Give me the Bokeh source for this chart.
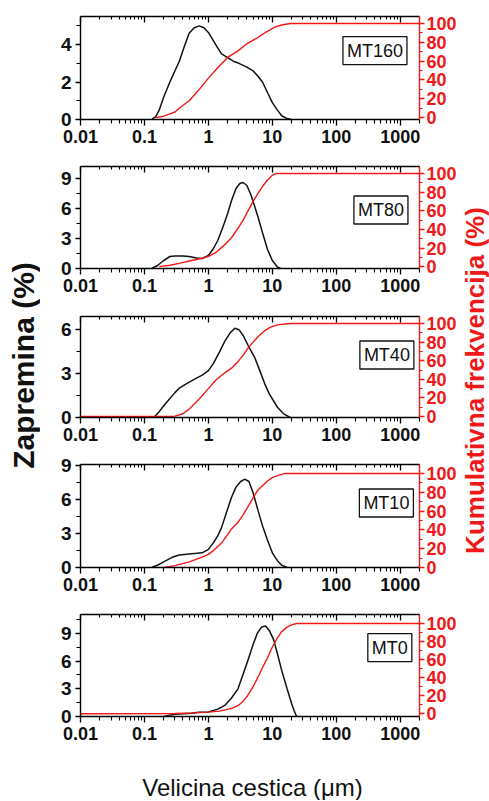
import math
from bokeh.plotting import figure
from bokeh.models import Range1d, LinearAxis, LogAxis, FixedTicker, CustomJSTickFormatter, Label
from bokeh.layouts import column, row
from bokeh.embed import file_html
from bokeh.resources import INLINE

# ---------------- data ----------------
sample_names = ["MT160", "MT80", "MT40", "MT10", "MT0"]

mt160_x = [0.13, 0.15, 0.17, 0.2, 0.25, 0.3, 0.35, 0.42, 0.5, 0.6, 0.72, 0.85, 1.0, 1.3, 1.6, 2.0, 2.5, 3.0, 4.0, 5.0, 6.0, 7.0, 8.5, 10, 12, 14, 17, 20]
mt160_v = [0, 0.15, 0.5, 1.2, 2.0, 2.6, 3.1, 3.9, 4.6, 4.9, 5.0, 4.9, 4.65, 4.0, 3.5, 3.3, 3.1, 3.0, 2.8, 2.6, 2.3, 2.0, 1.4, 0.9, 0.5, 0.2, 0.05, 0]
mt160_cx = [0.15, 0.2, 0.25, 0.3, 0.35, 0.5, 0.7, 1.0, 1.4, 2.0, 2.9, 4.1, 5.9, 8, 10.7, 14, 19, 2000]
mt160_c = [0, 1.5, 4, 6, 10, 18, 29, 42, 53, 64, 71, 79, 85, 91, 96, 98.5, 100, 100]

mt80_x = [0.13, 0.16, 0.2, 0.25, 0.3, 0.4, 0.5, 0.65, 0.8, 1.0, 1.2, 1.4, 1.7, 2.0, 2.3, 2.7, 3.1, 3.5, 4.0, 4.6, 5.3, 6.0, 7.0, 8.4, 10, 12, 13.5]
mt80_v = [0, 0.3, 0.8, 1.2, 1.25, 1.25, 1.2, 1.05, 1.0, 1.3, 2.0, 2.8, 4.2, 5.5, 6.8, 8.0, 8.5, 8.6, 8.3, 7.4, 6.2, 5.1, 3.6, 1.9, 0.8, 0.15, 0]
mt80_cx = [0.17, 0.25, 0.35, 0.5, 0.8, 1.0, 1.3, 1.7, 2.3, 2.9, 3.5, 4.1, 5.0, 6.0, 7.0, 8.4, 10, 11.5, 2000]
mt80_c = [0, 1.5, 3.5, 6, 9, 11, 15, 22, 31, 41, 50, 59, 70, 79, 86, 93, 98, 100, 100]

mt40_x = [0.14, 0.17, 0.2, 0.25, 0.3, 0.35, 0.45, 0.6, 0.8, 1.0, 1.2, 1.5, 1.8, 2.2, 2.6, 3.0, 3.5, 4.2, 5.3, 6.5, 7.6, 9, 12, 15, 19]
mt40_v = [0, 0.4, 0.8, 1.3, 1.7, 2.0, 2.3, 2.6, 2.9, 3.2, 3.7, 4.5, 5.2, 5.8, 6.1, 6.0, 5.6, 4.9, 4.1, 3.1, 2.3, 1.6, 0.7, 0.25, 0]
mt40_cx = [0.01, 0.25, 0.3, 0.4, 0.5, 0.7, 1.0, 1.3, 1.8, 2.3, 2.9, 3.5, 4.1, 5.0, 6.0, 7.5, 9.4, 12, 17, 20, 2000]
mt40_c = [0, 0, 0.5, 3, 8, 18, 30, 39, 47, 52, 59, 66, 73, 80, 86, 92, 96, 98.5, 99.7, 100, 100]

mt10_x = [0.13, 0.16, 0.2, 0.27, 0.35, 0.5, 0.65, 0.8, 1.0, 1.2, 1.4, 1.6, 1.9, 2.3, 2.7, 3.2, 3.7, 4.3, 5.0, 6.0, 7.0, 8.4, 10, 12, 14, 17]
mt10_v = [0, 0.2, 0.5, 0.9, 1.1, 1.2, 1.25, 1.3, 1.6, 2.2, 2.8, 3.5, 4.8, 6.2, 7.1, 7.6, 7.8, 7.6, 6.6, 5.0, 3.7, 2.4, 1.3, 0.6, 0.2, 0]
mt10_cx = [0.2, 0.3, 0.5, 0.8, 1.0, 1.2, 1.6, 2.0, 2.3, 2.9, 3.5, 4.1, 5.0, 5.9, 7.0, 8.4, 10, 13, 16, 2000]
mt10_c = [0, 2, 6, 11, 14, 18, 26, 35, 41, 48, 56, 64, 74, 82, 87, 92, 95.5, 98.5, 100, 100]

mt0_x = [0.2, 0.25, 0.3, 0.4, 0.55, 0.7, 1.0, 1.4, 1.8, 2.3, 2.9, 3.5, 4.2, 5.0, 5.8, 6.8, 7.8, 9.0, 10.5, 12, 14, 17, 20, 22, 24]
mt0_v = [0, 0.15, 0.25, 0.3, 0.35, 0.45, 0.5, 0.8, 1.2, 2.0, 3.0, 4.6, 6.2, 7.8, 9.0, 9.7, 9.8, 9.3, 8.3, 6.8, 5.0, 3.0, 1.4, 0.6, 0]
mt0_cx = [0.01, 0.3, 0.6, 1.0, 1.5, 2.3, 2.9, 3.5, 4.1, 5.0, 5.9, 7.0, 8.4, 10, 12, 14, 17, 20, 24, 2000]
mt0_c = [0, 0.3, 1, 1.8, 3, 6, 9, 14, 20, 30, 40, 51, 62, 74, 84, 91, 96, 98.5, 100, 100]

volume_x = [mt160_x, mt80_x, mt40_x, mt10_x, mt0_x]
volume_y = [mt160_v, mt80_v, mt40_v, mt10_v, mt0_v]
cumul_x = [mt160_cx, mt80_cx, mt40_cx, mt10_cx, mt0_cx]
cumul_y = [mt160_c, mt80_c, mt40_c, mt10_c, mt0_c]

x_limits = (0.01, 2000)
vol_limits = [(0, 5.5), (0, 10.2), (0, 6.9), (0, 9.1), (0, 11.05)]
cum_limits = [(-2, 107.5), (-2, 107.5), (-1, 107.5), (0, 109.5), (-3, 110)]
vol_major = [[0, 2, 4], [0, 3, 6, 9], [0, 3, 6], [0, 3, 6, 9], [0, 3, 6, 9]]
vol_minor = [[1, 3, 5], [1.5, 4.5, 7.5], [1.5, 4.5], [1.5, 4.5, 7.5], [1.5, 4.5, 7.5, 10.5]]
cum_major = [0, 20, 40, 60, 80, 100]
cum_minor = [10, 30, 50, 70, 90]
x_major = [0.01, 0.1, 1, 10, 100, 1000]
x_minor = [m * d for d in [0.01, 0.1, 1, 10, 100, 1000] for m in range(2, 10) if m * d <= 2000]

box_x = [402, 499, 618, 607, 687]
box_y = [3.68, 5.85, 4.27, 5.7, 7.47]

y_title = "Zapremina (%)"
y2_title = "Kumulativna frekvencija (%)"
x_title = "Velicina cestica (\u03bcm)"

# ---------------- layout / style ----------------
FONT = "Liberation Sans"
RED = "#f01818"
BLACK = "#111111"

LEFT_W = 40
PANEL_W = 419
RIGHT_W = 30
# (border top, frame height, border bottom) per panel
panel_geom = [(16, 103, 32), (15, 102, 32), (16, 101, 32), (15, 103, 32), (15, 102, 34)]
BOTTOM_H = 50

xfmt = CustomJSTickFormatter(code="return tick < 1 ? String(+tick.toPrecision(2)) : String(Math.round(tick));")
blank = CustomJSTickFormatter(code="return '';")

panels = []
for i in range(5):
    bt, fh, bb = panel_geom[i]
    p = figure(width=PANEL_W, height=bt + fh + bb, x_axis_type="log",
               x_range=Range1d(*x_limits), y_range=Range1d(*vol_limits[i]),
               toolbar_location=None, output_backend="svg",
               min_border_left=40, min_border_right=37, min_border_top=bt, min_border_bottom=bb)
    p.extra_y_ranges = {"cum": Range1d(*cum_limits[i])}
    p.grid.visible = False
    p.outline_line_color = None

    xa = p.xaxis[0]
    xa.ticker = FixedTicker(ticks=x_major, minor_ticks=x_minor)
    xa.formatter = xfmt
    xa.major_tick_out = 6
    xa.major_tick_in = 0
    xa.minor_tick_out = 4
    xa.minor_tick_in = 0
    xa.major_label_standoff = 4
    xa.major_label_text_font = FONT
    xa.major_label_text_font_style = "bold"
    xa.major_label_text_font_size = "18px"
    xa.major_label_text_color = BLACK
    xa.axis_line_width = 1.4
    xa.major_tick_line_width = 1.3
    xa.minor_tick_line_width = 1.1

    ya = p.yaxis[0]
    ya.ticker = FixedTicker(ticks=vol_major[i], minor_ticks=vol_minor[i])
    ya.major_tick_out = 5
    ya.major_tick_in = 0
    ya.minor_tick_out = 4
    ya.minor_tick_in = 0
    ya.major_label_standoff = 4
    ya.major_label_text_font = FONT
    ya.major_label_text_font_style = "bold"
    ya.major_label_text_font_size = "19px"
    ya.major_label_text_color = BLACK
    ya.axis_line_width = 1.4
    ya.major_tick_line_width = 1.3
    ya.minor_tick_line_width = 1.1

    top = LogAxis(ticker=FixedTicker(ticks=x_major, minor_ticks=x_minor), formatter=blank,
                  major_tick_in=6, major_tick_out=0, minor_tick_in=3, minor_tick_out=0,
                  major_label_standoff=0, major_label_text_font_size="1px",
                  axis_line_width=1.4, major_tick_line_width=1.3, minor_tick_line_width=1.1)
    p.add_layout(top, "above")

    ra = LinearAxis(y_range_name="cum", ticker=FixedTicker(ticks=cum_major, minor_ticks=cum_minor),
                    major_tick_out=5, major_tick_in=0, minor_tick_out=3, minor_tick_in=0,
                    major_label_standoff=2, major_label_text_font=FONT,
                    major_label_text_font_style="bold", major_label_text_font_size="18px",
                    major_label_text_color=RED, axis_line_color=RED, major_tick_line_color=RED,
                    minor_tick_line_color=RED, axis_line_width=1.4, major_tick_line_width=1.3,
                    minor_tick_line_width=1.1)
    p.add_layout(ra, "right")

    p.line(volume_x[i], volume_y[i], line_color=BLACK, line_width=1.5)
    p.line(cumul_x[i], cumul_y[i], line_color=RED, line_width=1.4, y_range_name="cum")

    p.add_layout(Label(x=box_x[i], y=box_y[i], text=sample_names[i], text_align="center",
                       text_baseline="middle", text_font=FONT, text_font_size="18px",
                       text_color=BLACK, border_line_color=BLACK, border_line_width=1.3,
                       background_fill_color="white", padding=4))
    panels.append(p)

total_h = sum(sum(g) for g in panel_geom)

lf = figure(width=LEFT_W, height=total_h, x_range=Range1d(0, LEFT_W), y_range=Range1d(0, total_h),
            toolbar_location=None, output_backend="svg", x_axis_location=None, y_axis_location=None,
            min_border=0)
lf.grid.visible = False
lf.outline_line_color = None
lf.add_layout(Label(x=23, y=total_h - 365, text=y_title, angle=math.pi / 2, text_align="center",
                    text_baseline="middle", text_font=FONT, text_font_style="bold",
                    text_font_size="30px", text_color=BLACK))

rf = figure(width=RIGHT_W, height=total_h, x_range=Range1d(0, RIGHT_W), y_range=Range1d(0, total_h),
            toolbar_location=None, output_backend="svg", x_axis_location=None, y_axis_location=None,
            min_border=0)
rf.grid.visible = False
rf.outline_line_color = None
rf.add_layout(Label(x=15, y=total_h - 380, text=y2_title, angle=math.pi / 2, text_align="center",
                    text_baseline="middle", text_font=FONT, text_font_style="bold",
                    text_font_size="26px", text_color=RED))

total_w = LEFT_W + PANEL_W + RIGHT_W
bf = figure(width=total_w, height=BOTTOM_H, x_range=Range1d(0, total_w), y_range=Range1d(0, BOTTOM_H),
            toolbar_location=None, output_backend="svg", x_axis_location=None, y_axis_location=None,
            min_border=0)
bf.grid.visible = False
bf.outline_line_color = None
bf.add_layout(Label(x=252, y=BOTTOM_H - 37, text=x_title, text_align="center", text_baseline="middle",
                    text_font=FONT, text_font_size="24px", text_color=BLACK))

layout = column(row(lf, column(*panels, spacing=0), rf, spacing=0), bf, spacing=0)

open("out.html", "w").write(file_html(layout, INLINE))
